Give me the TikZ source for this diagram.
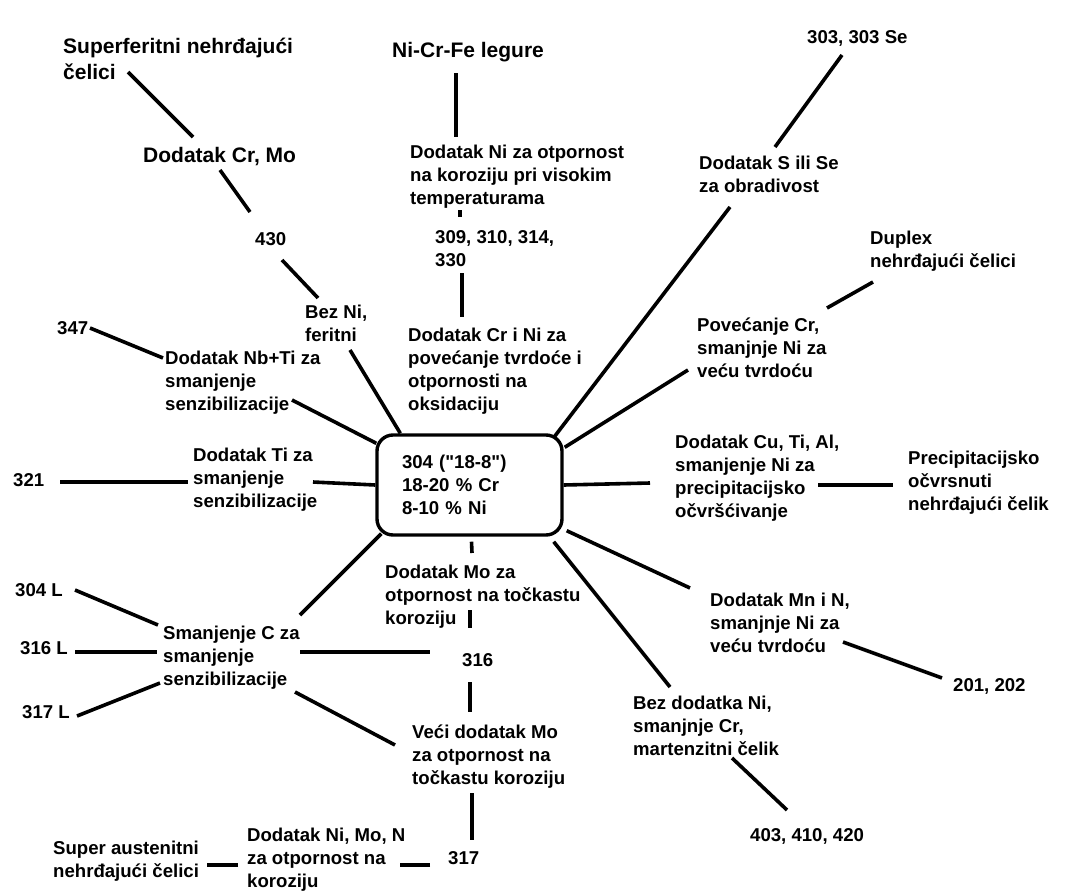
\documentclass[tikz,border=0pt]{standalone}
\usepackage{fontspec}
\setmainfont{Liberation Sans}
\usepackage{tikz}

\tikzset{
  lbl/.style={font=\bfseries\fontsize{18.6}{23}\selectfont, align=left, inner sep=0pt, anchor=base west},
  head/.style={lbl, font=\bfseries\fontsize{21}{25}\selectfont},
  link/.style={line width=3.6pt},
  core/.style={draw, line width=3.4pt, rounded corners=16pt, minimum width=185pt,
    minimum height=100pt, text width=135pt, inner xsep=25pt, inner ysep=0pt, align=left,
    font=\bfseries\fontsize{18.6}{23}\selectfont}
}

\begin{document}
\begin{tikzpicture}[x=1pt, y=1pt]
  \fill[white] (0,0) rectangle (1065,-891);
  \useasboundingbox (0,0) rectangle (1065,-891);

  % central grade
  \node[core] (box) at (469.5,-485) {304 (\textquotedbl18-8\textquotedbl)\\18-20 \% Cr\\8-10 \% Ni};

  % upper left branch (multi-line labels sit on their last baseline)
  \node[head] (supf) at (63,-79) {Superferitni nehrđajući\\čelici};
  \node[head] (crmo) at (143,-162) {Dodatak Cr, Mo};
  \node[lbl] (n430) at (255,-245) {430};
  \node[lbl] (bezni) at (305,-341) {Bez Ni,\\feritni};
  \node[lbl] (n347) at (57,-334) {347};
  \node[lbl] (nbti) at (165,-410) {Dodatak Nb+Ti za\\smanjenje\\senzibilizacije};
  \node[lbl] (n321) at (13,-486) {321};
  \node[lbl] (ti) at (193,-507) {Dodatak Ti za\\smanjenje\\senzibilizacije};

  % upper middle branch
  \node[head] (nicrfe) at (392,-57) {Ni-Cr-Fe legure};
  \node[lbl] (niotp) at (410,-204) {Dodatak Ni za otpornost\\na koroziju pri visokim\\temperaturama};
  \node[lbl] (n309) at (435,-266) {309, 310, 314,\\330};
  \node[lbl] (crni) at (408,-410) {Dodatak Cr i Ni za\\povećanje tvrdoće i\\otpornosti na\\oksidaciju};

  % right side
  \node[lbl] (n303) at (807,-44) {303, 303 Se};
  \node[lbl] (sse) at (699,-192) {Dodatak S ili Se\\za obradivost};
  \node[lbl] (duplex) at (870,-267) {Duplex\\nehrđajući čelici};
  \node[lbl] (povcr) at (697,-377) {Povećanje Cr,\\smanjnje Ni za\\veću tvrdoću};
  \node[lbl] (cutial) at (675,-517) {Dodatak Cu, Ti, Al,\\smanjenje Ni za\\precipitacijsko\\očvršćivanje};
  \node[lbl] (precip) at (908,-510) {Precipitacijsko\\očvrsnuti\\nehrđajući čelik};
  \node[lbl] (mnn) at (710,-652) {Dodatak Mn i N,\\smanjnje Ni za\\veću tvrdoću};
  \node[lbl] (n201) at (953,-691) {201, 202};
  \node[lbl] (bezdod) at (633,-755) {Bez dodatka Ni,\\smanjnje Cr,\\martenzitni čelik};
  \node[lbl] (n403) at (750,-841) {403, 410, 420};

  % lower branch
  \node[lbl] (mo) at (385,-624) {Dodatak Mo za\\otpornost na točkastu\\koroziju};
  \node[lbl] (n316) at (462,-666) {316};
  \node[lbl] (vecimo) at (412,-784) {Veći dodatak Mo\\za otpornost na\\točkastu koroziju};
  \node[lbl] (n317) at (448,-864) {317};
  \node[lbl] (nimon) at (247,-887) {Dodatak Ni, Mo, N\\za otpornost na\\koroziju};
  \node[lbl] (superaus) at (53,-877) {Super austenitni\\nehrđajući čelici};
  \node[lbl] (smanc) at (163,-685) {Smanjenje C za\\smanjenje\\senzibilizacije};
  \node[lbl] (n304l) at (15,-596) {304 L};
  \node[lbl] (n316l) at (20,-654) {316 L};
  \node[lbl] (n317l) at (22,-718) {317 L};

  % connectors
  \draw[link] ([shift={(65,7)}]supf.base west) -- ([shift={(50,25)}]crmo.base west);
  \draw[link] ([shift={(77,-8)}]crmo.base west) -- ([shift={(-5,33)}]n430.base west);
  \draw[link] ([shift={(27,-15)}]n430.base west) -- ([shift={(13,43)}]bezni.base west);
  \draw[link] ([shift={(45,-9)}]bezni.base west) -- ([xshift=25]box.north west);
  \draw[link] ([shift={(64,-16)}]nicrfe.base west) -- ([shift={(46,67)}]niotp.base west);
  \draw[link] ([shift={(50,-6)}]niotp.base west) -- ([shift={(25,49)}]n309.base west);
  \draw[link] ([shift={(27,-7)}]n309.base west) -- ([shift={(54,93)}]crni.base west);
  \draw[link] ([shift={(35,-11)}]n303.base west) -- ([shift={(76,45)}]sse.base west);
  \draw[link] ([shift={(31,-15)}]sse.base west) -- ([shift={(-9,-3)}]box.north east);
  \draw[link] ([shift={(3,-15)}]duplex.base west) -- ([shift={(130,69)}]povcr.base west);
  \draw[link] ([shift={(-9,7)}]povcr.base west) -- ([shift={(1,-14)}]box.north east);
  \draw[link] (box.east) -- ([shift={(-25,34)}]cutial.base west);
  \draw[link] ([shift={(143,32)}]cutial.base west) -- ([shift={(-15,25)}]precip.base west);
  \draw[link] ([shift={(3,6)}]box.south east) -- ([shift={(-20,64)}]mnn.base west);
  \draw[link] ([shift={(133,10)}]mnn.base west) -- ([shift={(-11,13)}]n201.base west);
  \draw[link] ([shift={(-10,-5)}]box.south east) -- ([shift={(37,68)}]bezdod.base west);
  \draw[link] ([shift={(99,-3)}]bezdod.base west) -- ([shift={(37,31)}]n403.base west);
  \draw[link] ([shift={(2,-5)}]box.south) -- ([shift={(87,71)}]mo.base west);
  \draw[link] ([shift={(85,14)}]mo.base west) -- ([shift={(8,38)}]n316.base west);
  \draw[link] ([shift={(8,-16)}]n316.base west) -- ([shift={(58,72)}]vecimo.base west);
  \draw[link] ([shift={(60,-9)}]vecimo.base west) -- ([shift={(24,24)}]n317.base west);
  \draw[link] ([shift={(-18,-1)}]n317.base west) -- ([shift={(153,22)}]nimon.base west);
  \draw[link] ([shift={(-9,22)}]nimon.base west) -- ([shift={(154,12)}]superaus.base west);
  \draw[link] ([shift={(137,33)}]smanc.base west) -- ([shift={(-32,14)}]n316.base west);
  \draw[link] ([shift={(132,-7)}]smanc.base west) -- ([shift={(-17,39)}]vecimo.base west);
  \draw[link] ([shift={(137,70)}]smanc.base west) -- ([shift={(6,3)}]box.south west);
  \draw[link] ([shift={(60,6)}]n304l.base west) -- ([shift={(-5,60)}]smanc.base west);
  \draw[link] ([shift={(55,2)}]n316l.base west) -- ([shift={(-6,33)}]smanc.base west);
  \draw[link] ([shift={(55,2)}]n317l.base west) -- ([shift={(-3,2)}]smanc.base west);
  \draw[link] ([shift={(47,4)}]n321.base west) -- ([shift={(-5,25)}]ti.base west);
  \draw[link] ([shift={(120,25)}]ti.base west) -- (box.west);
  \draw[link] ([shift={(33,6)}]n347.base west) -- ([shift={(-2,52)}]nbti.base west);
  \draw[link] ([shift={(127,10)}]nbti.base west) -- ([shift={(1,-10)}]box.north west);
\end{tikzpicture}
\end{document}
